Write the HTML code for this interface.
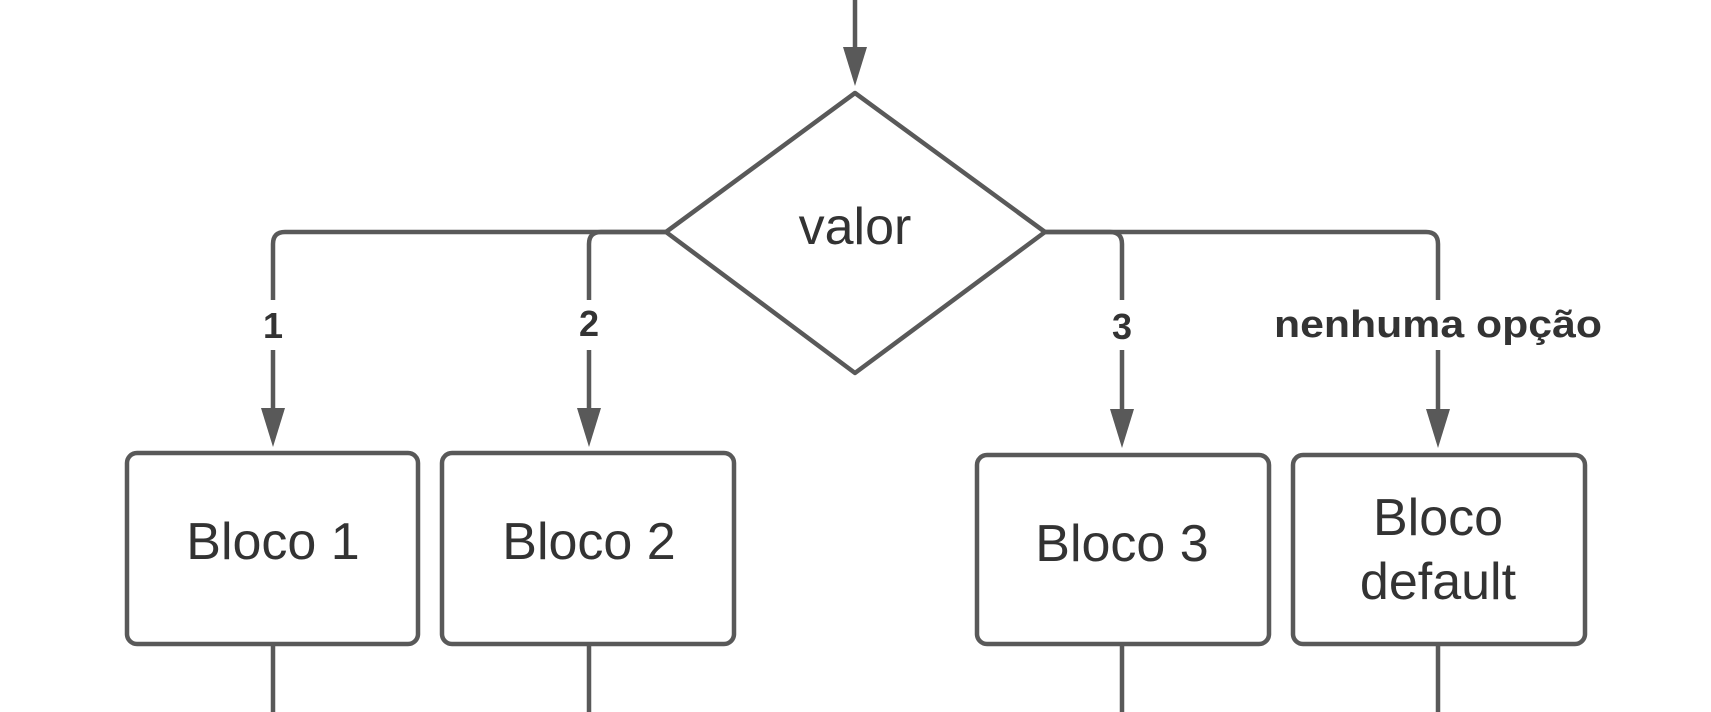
<!DOCTYPE html>
<html><head><style>body{margin:0;background:#fff}svg{display:block}</style></head><body>
<svg width="1711" height="712" viewBox="0 0 1711 712" xmlns="http://www.w3.org/2000/svg">
<g stroke="#595959" stroke-width="4.5" fill="none" stroke-linejoin="round">
<line x1="855" y1="0" x2="855" y2="55"/>
<polygon points="855,93 1045,232 855,373 666,232"/>
<path d="M666,232 H285 Q273,232 273,244 V410"/>
<path d="M666,232 H601 Q589,232 589,244 V410"/>
<path d="M1045,232 H1110 Q1122,232 1122,244 V410"/>
<path d="M1045,232 H1426 Q1438,232 1438,244 V410"/>
<rect x="127" y="453" width="291" height="191" rx="10"/>
<rect x="442" y="453" width="292" height="191" rx="10"/>
<rect x="977" y="455" width="292" height="189" rx="10"/>
<rect x="1293" y="455" width="292" height="189" rx="10"/>
<line x1="273" y1="644" x2="273" y2="712"/>
<line x1="589" y1="644" x2="589" y2="712"/>
<line x1="1122" y1="644" x2="1122" y2="712"/>
<line x1="1438" y1="644" x2="1438" y2="712"/>
</g>
<g fill="#595959">
<polygon points="843,47 867,47 855,86"/>
<polygon points="261,408 285,408 273,447"/>
<polygon points="577,408 601,408 589,447"/>
<polygon points="1110,409 1134,409 1122,448"/>
<polygon points="1426,409 1450,409 1438,448"/>
</g>
<g fill="#fff">
<rect x="255" y="300" width="36" height="50"/>
<rect x="571" y="300" width="36" height="50"/>
<rect x="1104" y="300" width="36" height="50"/>
<rect x="1270" y="300" width="336" height="50"/>
</g>
<g font-family="Liberation Sans, sans-serif" fill="#333" text-anchor="middle">
<g font-weight="bold" font-size="36">
<text x="273" y="338">1</text>
<text x="589" y="336">2</text>
<text x="1122" y="339">3</text>
<text x="1438" y="337" font-size="38" textLength="328" lengthAdjust="spacingAndGlyphs">nenhuma opção</text>
</g>
<g font-size="52">
<text x="855" y="244">valor</text>
<text x="273" y="559">Bloco 1</text>
<text x="589" y="559">Bloco 2</text>
<text x="1122" y="561">Bloco 3</text>
<text x="1438" y="535">Bloco</text>
<text x="1438" y="599">default</text>
</g>
</g>
</svg>
</body></html>
